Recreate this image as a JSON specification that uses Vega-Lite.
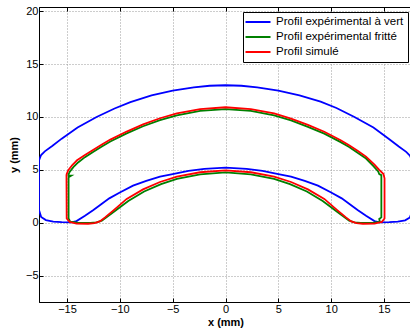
{
 "$schema": "https://vega.github.io/schema/vega-lite/v6.json",
 "width": 373, "height": 295,
 "autosize": {"type": "none"},
 "padding": {"left": 39, "top": 7, "right": 0, "bottom": 30},
 "background": "white",
 "config": {
  "font": "Liberation Sans",
  "view": {"stroke": "black", "strokeWidth": 1},
  "axis": {"domainColor": "black", "tickColor": "black", "labelColor": "black", "titleColor": "black", "labelFontSize": 11, "titleFontSize": 11, "titleFontWeight": "bold", "gridColor": "#9a9a9a", "gridDash": [1, 2], "gridWidth": 1, "gridOpacity": 1, "tickSize": -4, "labelPadding": 5}
 },
 "datasets": {
  "pts": [
   {"s":"Profil expérimental à vert","i":1,"x":-17.65,"y":5.9},
   {"s":"Profil expérimental à vert","i":2,"x":-17.45,"y":6.4},
   {"s":"Profil expérimental à vert","i":3,"x":-17.1,"y":6.75},
   {"s":"Profil expérimental à vert","i":4,"x":-16.4,"y":7.25},
   {"s":"Profil expérimental à vert","i":5,"x":-15.5,"y":7.95},
   {"s":"Profil expérimental à vert","i":6,"x":-14.0,"y":9.0},
   {"s":"Profil expérimental à vert","i":7,"x":-12.2,"y":10.0},
   {"s":"Profil expérimental à vert","i":8,"x":-10.5,"y":10.8},
   {"s":"Profil expérimental à vert","i":9,"x":-9.0,"y":11.4},
   {"s":"Profil expérimental à vert","i":10,"x":-7.0,"y":12.05},
   {"s":"Profil expérimental à vert","i":11,"x":-5.0,"y":12.5},
   {"s":"Profil expérimental à vert","i":12,"x":-3.0,"y":12.8},
   {"s":"Profil expérimental à vert","i":13,"x":-1.5,"y":12.95},
   {"s":"Profil expérimental à vert","i":14,"x":0,"y":13.0},
   {"s":"Profil expérimental à vert","i":15,"x":1.5,"y":12.95},
   {"s":"Profil expérimental à vert","i":16,"x":3.0,"y":12.8},
   {"s":"Profil expérimental à vert","i":17,"x":5.0,"y":12.5},
   {"s":"Profil expérimental à vert","i":18,"x":7.0,"y":12.05},
   {"s":"Profil expérimental à vert","i":19,"x":9.0,"y":11.45},
   {"s":"Profil expérimental à vert","i":20,"x":10.5,"y":10.85},
   {"s":"Profil expérimental à vert","i":21,"x":12.2,"y":10.0},
   {"s":"Profil expérimental à vert","i":22,"x":14.0,"y":9.0},
   {"s":"Profil expérimental à vert","i":23,"x":15.5,"y":7.9},
   {"s":"Profil expérimental à vert","i":24,"x":16.4,"y":7.2},
   {"s":"Profil expérimental à vert","i":25,"x":17.1,"y":6.7},
   {"s":"Profil expérimental à vert","i":26,"x":17.45,"y":6.35},
   {"s":"Profil expérimental à vert","i":27,"x":17.65,"y":5.9},
   {"s":"Profil expérimental à vert","i":28,"x":17.7,"y":1.2},
   {"s":"Profil expérimental à vert","i":29,"x":17.45,"y":0.5},
   {"s":"Profil expérimental à vert","i":30,"x":17.0,"y":0.22},
   {"s":"Profil expérimental à vert","i":31,"x":16.3,"y":0.1},
   {"s":"Profil expérimental à vert","i":32,"x":15.5,"y":0.05},
   {"s":"Profil expérimental à vert","i":33,"x":14.6,"y":0.04},
   {"s":"Profil expérimental à vert","i":34,"x":14.1,"y":0.15},
   {"s":"Profil expérimental à vert","i":35,"x":13.3,"y":0.65},
   {"s":"Profil expérimental à vert","i":36,"x":12.5,"y":1.2},
   {"s":"Profil expérimental à vert","i":37,"x":11.7,"y":1.8},
   {"s":"Profil expérimental à vert","i":38,"x":11.0,"y":2.3},
   {"s":"Profil expérimental à vert","i":39,"x":10.0,"y":2.85},
   {"s":"Profil expérimental à vert","i":40,"x":8.75,"y":3.5},
   {"s":"Profil expérimental à vert","i":41,"x":7.5,"y":3.95},
   {"s":"Profil expérimental à vert","i":42,"x":6.2,"y":4.35},
   {"s":"Profil expérimental à vert","i":43,"x":5.0,"y":4.6},
   {"s":"Profil expérimental à vert","i":44,"x":3.5,"y":4.9},
   {"s":"Profil expérimental à vert","i":45,"x":2.0,"y":5.1},
   {"s":"Profil expérimental à vert","i":46,"x":0,"y":5.2},
   {"s":"Profil expérimental à vert","i":47,"x":-2.0,"y":5.1},
   {"s":"Profil expérimental à vert","i":48,"x":-3.5,"y":4.9},
   {"s":"Profil expérimental à vert","i":49,"x":-5.0,"y":4.6},
   {"s":"Profil expérimental à vert","i":50,"x":-6.2,"y":4.35},
   {"s":"Profil expérimental à vert","i":51,"x":-7.5,"y":3.95},
   {"s":"Profil expérimental à vert","i":52,"x":-8.75,"y":3.5},
   {"s":"Profil expérimental à vert","i":53,"x":-10.0,"y":2.85},
   {"s":"Profil expérimental à vert","i":54,"x":-11.0,"y":2.3},
   {"s":"Profil expérimental à vert","i":55,"x":-11.7,"y":1.8},
   {"s":"Profil expérimental à vert","i":56,"x":-12.5,"y":1.2},
   {"s":"Profil expérimental à vert","i":57,"x":-13.3,"y":0.65},
   {"s":"Profil expérimental à vert","i":58,"x":-14.1,"y":0.15},
   {"s":"Profil expérimental à vert","i":59,"x":-14.6,"y":0.04},
   {"s":"Profil expérimental à vert","i":60,"x":-15.5,"y":0.05},
   {"s":"Profil expérimental à vert","i":61,"x":-16.3,"y":0.1},
   {"s":"Profil expérimental à vert","i":62,"x":-17.0,"y":0.25},
   {"s":"Profil expérimental à vert","i":63,"x":-17.45,"y":0.55},
   {"s":"Profil expérimental à vert","i":64,"x":-17.65,"y":1.2},
   {"s":"Profil expérimental à vert","i":65,"x":-17.65,"y":5.9},

   {"s":"Profil expérimental fritté","i":1,"x":-14.9,"y":4.45},
   {"s":"Profil expérimental fritté","i":2,"x":-14.75,"y":4.8},
   {"s":"Profil expérimental fritté","i":3,"x":-14.4,"y":5.25},
   {"s":"Profil expérimental fritté","i":4,"x":-13.95,"y":5.7},
   {"s":"Profil expérimental fritté","i":5,"x":-13.3,"y":6.2},
   {"s":"Profil expérimental fritté","i":6,"x":-12.5,"y":6.7},
   {"s":"Profil expérimental fritté","i":7,"x":-11.7,"y":7.2},
   {"s":"Profil expérimental fritté","i":8,"x":-10.9,"y":7.68},
   {"s":"Profil expérimental fritté","i":9,"x":-9.35,"y":8.45},
   {"s":"Profil expérimental fritté","i":10,"x":-7.8,"y":9.12},
   {"s":"Profil expérimental fritté","i":11,"x":-6.2,"y":9.7},
   {"s":"Profil expérimental fritté","i":12,"x":-4.6,"y":10.15},
   {"s":"Profil expérimental fritté","i":13,"x":-2.4,"y":10.57},
   {"s":"Profil expérimental fritté","i":14,"x":0,"y":10.74},
   {"s":"Profil expérimental fritté","i":15,"x":2.4,"y":10.57},
   {"s":"Profil expérimental fritté","i":16,"x":4.6,"y":10.15},
   {"s":"Profil expérimental fritté","i":17,"x":6.2,"y":9.67},
   {"s":"Profil expérimental fritté","i":18,"x":7.8,"y":9.07},
   {"s":"Profil expérimental fritté","i":19,"x":9.35,"y":8.42},
   {"s":"Profil expérimental fritté","i":20,"x":10.9,"y":7.62},
   {"s":"Profil expérimental fritté","i":21,"x":11.7,"y":7.15},
   {"s":"Profil expérimental fritté","i":22,"x":12.5,"y":6.62},
   {"s":"Profil expérimental fritté","i":23,"x":13.3,"y":6.07},
   {"s":"Profil expérimental fritté","i":24,"x":14.0,"y":5.35},
   {"s":"Profil expérimental fritté","i":25,"x":14.45,"y":4.85},
   {"s":"Profil expérimental fritté","i":26,"x":14.55,"y":4.6},
   {"s":"Profil expérimental fritté","i":27,"x":14.75,"y":4.5},
   {"s":"Profil expérimental fritté","i":28,"x":14.75,"y":0.5},
   {"s":"Profil expérimental fritté","i":29,"x":14.55,"y":0.35},
   {"s":"Profil expérimental fritté","i":30,"x":14.6,"y":0.08},
   {"s":"Profil expérimental fritté","i":31,"x":14.0,"y":0.0},
   {"s":"Profil expérimental fritté","i":32,"x":12.8,"y":-0.02},
   {"s":"Profil expérimental fritté","i":33,"x":12.2,"y":0.03},
   {"s":"Profil expérimental fritté","i":34,"x":11.7,"y":0.2},
   {"s":"Profil expérimental fritté","i":35,"x":11.2,"y":0.55},
   {"s":"Profil expérimental fritté","i":36,"x":10.4,"y":1.15},
   {"s":"Profil expérimental fritté","i":37,"x":9.2,"y":2.05},
   {"s":"Profil expérimental fritté","i":38,"x":7.7,"y":2.95},
   {"s":"Profil expérimental fritté","i":39,"x":6.1,"y":3.65},
   {"s":"Profil expérimental fritté","i":40,"x":4.6,"y":4.15},
   {"s":"Profil expérimental fritté","i":41,"x":2.4,"y":4.58},
   {"s":"Profil expérimental fritté","i":42,"x":0,"y":4.75},
   {"s":"Profil expérimental fritté","i":43,"x":-2.4,"y":4.58},
   {"s":"Profil expérimental fritté","i":44,"x":-4.6,"y":4.15},
   {"s":"Profil expérimental fritté","i":45,"x":-6.1,"y":3.65},
   {"s":"Profil expérimental fritté","i":46,"x":-7.7,"y":2.95},
   {"s":"Profil expérimental fritté","i":47,"x":-9.2,"y":2.05},
   {"s":"Profil expérimental fritté","i":48,"x":-10.4,"y":1.15},
   {"s":"Profil expérimental fritté","i":49,"x":-11.2,"y":0.55},
   {"s":"Profil expérimental fritté","i":50,"x":-11.7,"y":0.2},
   {"s":"Profil expérimental fritté","i":51,"x":-12.2,"y":0.03},
   {"s":"Profil expérimental fritté","i":52,"x":-12.8,"y":-0.02},
   {"s":"Profil expérimental fritté","i":53,"x":-14.0,"y":0.0},
   {"s":"Profil expérimental fritté","i":54,"x":-14.7,"y":0.1},
   {"s":"Profil expérimental fritté","i":55,"x":-14.85,"y":0.4},
   {"s":"Profil expérimental fritté","i":56,"x":-14.85,"y":4.3},
   {"s":"Profil expérimental fritté","i":57,"x":-14.6,"y":4.45},
   {"s":"Profil expérimental fritté","i":58,"x":-14.9,"y":4.45},

   {"s":"Profil simulé","i":1,"x":-15.05,"y":4.55},
   {"s":"Profil simulé","i":2,"x":-14.88,"y":4.96},
   {"s":"Profil simulé","i":3,"x":-14.5,"y":5.45},
   {"s":"Profil simulé","i":4,"x":-14.05,"y":5.9},
   {"s":"Profil simulé","i":5,"x":-13.3,"y":6.4},
   {"s":"Profil simulé","i":6,"x":-12.5,"y":6.9},
   {"s":"Profil simulé","i":7,"x":-11.7,"y":7.4},
   {"s":"Profil simulé","i":8,"x":-10.9,"y":7.86},
   {"s":"Profil simulé","i":9,"x":-9.35,"y":8.62},
   {"s":"Profil simulé","i":10,"x":-7.8,"y":9.3},
   {"s":"Profil simulé","i":11,"x":-6.2,"y":9.88},
   {"s":"Profil simulé","i":12,"x":-4.6,"y":10.33},
   {"s":"Profil simulé","i":13,"x":-2.4,"y":10.75},
   {"s":"Profil simulé","i":14,"x":0,"y":10.92},
   {"s":"Profil simulé","i":15,"x":2.4,"y":10.75},
   {"s":"Profil simulé","i":16,"x":4.6,"y":10.33},
   {"s":"Profil simulé","i":17,"x":6.2,"y":9.85},
   {"s":"Profil simulé","i":18,"x":7.8,"y":9.25},
   {"s":"Profil simulé","i":19,"x":9.35,"y":8.6},
   {"s":"Profil simulé","i":20,"x":10.9,"y":7.8},
   {"s":"Profil simulé","i":21,"x":11.7,"y":7.33},
   {"s":"Profil simulé","i":22,"x":12.5,"y":6.8},
   {"s":"Profil simulé","i":23,"x":13.3,"y":6.25},
   {"s":"Profil simulé","i":24,"x":14.1,"y":5.5},
   {"s":"Profil simulé","i":25,"x":14.55,"y":5.0},
   {"s":"Profil simulé","i":26,"x":14.95,"y":4.6},
   {"s":"Profil simulé","i":27,"x":15.05,"y":4.2},
   {"s":"Profil simulé","i":28,"x":15.05,"y":0.4},
   {"s":"Profil simulé","i":29,"x":14.8,"y":0.08},
   {"s":"Profil simulé","i":30,"x":14.1,"y":-0.09},
   {"s":"Profil simulé","i":31,"x":13.0,"y":-0.1},
   {"s":"Profil simulé","i":32,"x":12.4,"y":-0.04},
   {"s":"Profil simulé","i":33,"x":11.9,"y":0.12},
   {"s":"Profil simulé","i":34,"x":11.4,"y":0.5},
   {"s":"Profil simulé","i":35,"x":10.6,"y":1.17},
   {"s":"Profil simulé","i":36,"x":9.35,"y":2.25},
   {"s":"Profil simulé","i":37,"x":7.8,"y":3.15},
   {"s":"Profil simulé","i":38,"x":6.2,"y":3.85},
   {"s":"Profil simulé","i":39,"x":4.6,"y":4.35},
   {"s":"Profil simulé","i":40,"x":2.4,"y":4.77},
   {"s":"Profil simulé","i":41,"x":0,"y":4.95},
   {"s":"Profil simulé","i":42,"x":-2.4,"y":4.77},
   {"s":"Profil simulé","i":43,"x":-4.6,"y":4.35},
   {"s":"Profil simulé","i":44,"x":-6.2,"y":3.85},
   {"s":"Profil simulé","i":45,"x":-7.8,"y":3.15},
   {"s":"Profil simulé","i":46,"x":-9.35,"y":2.25},
   {"s":"Profil simulé","i":47,"x":-10.6,"y":1.17},
   {"s":"Profil simulé","i":48,"x":-11.4,"y":0.5},
   {"s":"Profil simulé","i":49,"x":-11.9,"y":0.12},
   {"s":"Profil simulé","i":50,"x":-12.4,"y":-0.04},
   {"s":"Profil simulé","i":51,"x":-13.0,"y":-0.1},
   {"s":"Profil simulé","i":52,"x":-14.1,"y":-0.09},
   {"s":"Profil simulé","i":53,"x":-14.75,"y":0.08},
   {"s":"Profil simulé","i":54,"x":-15.03,"y":0.4},
   {"s":"Profil simulé","i":55,"x":-15.05,"y":4.55}
  ]
 },
 "data": {"name": "pts"},
 "layer": [
  {
   "mark": {"type": "line", "strokeWidth": 1.8, "clip": true},
   "encoding": {
    "x": {"field": "x", "type": "quantitative", "scale": {"domain": [-17.65, 17.65], "nice": false, "zero": false},
          "axis": {"title": "x (mm)", "values": [-15, -10, -5, 0, 5, 10, 15], "grid": true, "titlePadding": 2}},
    "y": {"field": "y", "type": "quantitative", "scale": {"domain": [-7.5, 20.4], "nice": false, "zero": false},
          "axis": {"title": "y (mm)", "values": [-5, 0, 5, 10, 15, 20], "grid": true, "titlePadding": 6}},
    "color": {"field": "s", "type": "nominal",
              "scale": {"domain": ["Profil expérimental à vert", "Profil expérimental fritté", "Profil simulé"], "range": ["#0000ff", "#008000", "#ff0000"]},
              "legend": {"orient": "none", "legendX": 204, "legendY": 5, "title": null, "symbolType": "M-2.5,0L2.5,0", "symbolSize": 100, "symbolStrokeWidth": 2, "symbolOffset": 5, "labelFontSize": 11.5, "labelColor": "black", "strokeColor": "black", "fillColor": "white", "padding": 4, "rowPadding": 3, "labelOffset": 12}},
    "order": {"field": "i", "type": "quantitative"}
   }
  },
  {
   "mark": {"type": "point", "opacity": 0},
   "encoding": {
    "x": {"field": "x", "type": "quantitative", "scale": {"domain": [-17.65, 17.65], "nice": false, "zero": false},
          "axis": {"orient": "top", "title": null, "labels": false, "grid": false, "values": [-15, -10, -5, 0, 5, 10, 15]}},
    "y": {"field": "y", "type": "quantitative", "scale": {"domain": [-7.5, 20.4], "nice": false, "zero": false},
          "axis": {"title": "y (mm)", "values": [-5, 0, 5, 10, 15, 20], "grid": true, "titlePadding": 6}}
   }
  }
 ],
 "resolve": {"axis": {"x": "independent"}}
}
